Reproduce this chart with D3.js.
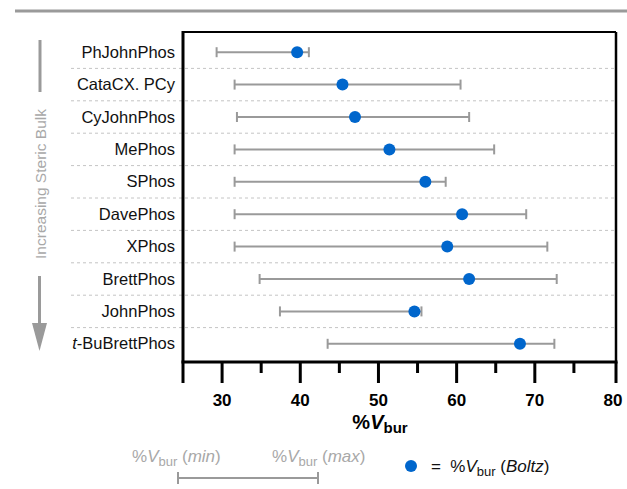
<!DOCTYPE html>
<html>
<head>
<meta charset="utf-8">
<script src="https://cdn.jsdelivr.net/npm/d3@7"></script>
<style>
  body { margin: 0; background: #fff; }
  svg { font-family: "Liberation Sans", Arial, Helvetica, sans-serif; }
</style>
</head>
<body>
<svg id="chart" width="627" height="489"></svg>
<script>
// ligands, top to bottom (increasing steric bulk)
const ligands = ['PhJohnPhos', 'CataCX. PCy', 'CyJohnPhos', 'MePhos', 'SPhos',
                 'DavePhos', 'XPhos', 'BrettPhos', 'JohnPhos', 't-BuBrettPhos'];
// %Vbur values
const vburMin   = [29.3, 31.6, 31.9, 31.6, 31.6, 31.6, 31.6, 34.8, 37.4, 43.5];
const vburMax   = [41.1, 60.5, 61.6, 64.8, 58.6, 68.9, 71.6, 72.8, 55.5, 72.5];
const vburBoltz = [39.6, 45.4, 47.0, 51.4, 56.0, 60.7, 58.8, 61.6, 54.6, 68.1];
const majorTicks = [30, 40, 50, 60, 70, 80];
const minorTicks = [35, 45, 55, 65, 75];

const rows = ligands.map((name, i) => ({
    name: name, min: vburMin[i], max: vburMax[i], boltz: vburBoltz[i]
}));

const svg = d3.select('#chart');
const grey = '#9a9a9a';
const blue = '#0066cc';

const x = d3.scaleLinear().domain([25, 80]).range([183, 613]);
const y = d3.scaleBand().domain(ligands).range([36, 360]);
const boxTop = 32, boxBottom = 362;

// top rule
svg.append('line')
    .attr('x1', 15).attr('x2', 627).attr('y1', 11).attr('y2', 11)
    .attr('stroke', grey).attr('stroke-width', 3);

// dashed separators between rows
svg.selectAll('.sep')
    .data(ligands.slice(1))
    .enter()
    .append('line')
    .attr('class', 'sep')
    .attr('x1', 71).attr('x2', 614)
    .attr('y1', d => y(d)).attr('y2', d => y(d))
    .attr('stroke', '#c4c4c4')
    .attr('stroke-width', 1)
    .attr('stroke-dasharray', '3,3');

// plot box (top/right thin, left/bottom thick)
svg.append('line').attr('x1', x(25)).attr('x2', x(80) + 3)
    .attr('y1', boxTop).attr('y2', boxTop)
    .attr('stroke', '#000').attr('stroke-width', 2);
svg.append('line').attr('x1', x(80) + 3).attr('x2', x(80) + 3)
    .attr('y1', boxTop).attr('y2', boxBottom)
    .attr('stroke', '#000').attr('stroke-width', 2.5);
svg.append('line').attr('x1', x(25)).attr('x2', x(25))
    .attr('y1', boxTop - 1).attr('y2', boxBottom)
    .attr('stroke', '#000').attr('stroke-width', 3);

// x axis
const axis = svg.append('g').attr('transform', `translate(0,${boxBottom})`);
axis.append('line').attr('x1', x(25) - 1.5).attr('x2', x(80) + 4.5)
    .attr('stroke', '#000').attr('stroke-width', 3);
axis.selectAll('.major')
    .data([25].concat(majorTicks))
    .enter()
    .append('line')
    .attr('x1', d => d === 80 ? x(d) + 3 : x(d)).attr('x2', d => d === 80 ? x(d) + 3 : x(d))
    .attr('y1', 0).attr('y2', 21)
    .attr('stroke', '#000').attr('stroke-width', 3);
axis.selectAll('.minor')
    .data(minorTicks)
    .enter()
    .append('line')
    .attr('x1', d => x(d)).attr('x2', d => x(d))
    .attr('y1', 0).attr('y2', 11)
    .attr('stroke', '#000').attr('stroke-width', 3);
axis.selectAll('.tlabel')
    .data(majorTicks)
    .enter()
    .append('text')
    .attr('x', d => x(d)).attr('y', 44)
    .attr('text-anchor', 'middle')
    .attr('font-size', 17).attr('font-weight', 'bold')
    .text(d => d);

// axis title %V_bur
const title = svg.append('text')
    .attr('x', 380).attr('y', 429)
    .attr('text-anchor', 'middle')
    .attr('font-size', 20).attr('font-weight', 'bold');
title.append('tspan').text('%');
title.append('tspan').attr('font-style', 'italic').text('V');
title.append('tspan').attr('font-size', 15).attr('dy', 4).text('bur');

// row labels
const labels = svg.selectAll('.rlabel')
    .data(rows)
    .enter()
    .append('text')
    .attr('x', 175)
    .attr('y', d => y(d.name) + y.bandwidth() / 2 + 5.5)
    .attr('text-anchor', 'end')
    .attr('font-size', 16.5)
    .attr('fill', '#111');
labels.each(function(d) {
    const t = d3.select(this);
    if (d.name.startsWith('t-')) {
        t.append('tspan').attr('font-style', 'italic').text('t');
        t.append('tspan').text(d.name.slice(1));
    } else {
        t.text(d.name);
    }
});

// error bars
const bars = svg.selectAll('.bar')
    .data(rows)
    .enter()
    .append('g')
    .attr('transform', d => `translate(0,${y(d.name) + y.bandwidth() / 2})`);
bars.append('line')
    .attr('x1', d => x(d.min)).attr('x2', d => x(d.max))
    .attr('stroke', grey).attr('stroke-width', 2);
bars.append('line')
    .attr('x1', d => x(d.min)).attr('x2', d => x(d.min))
    .attr('y1', -5).attr('y2', 5)
    .attr('stroke', grey).attr('stroke-width', 2);
bars.append('line')
    .attr('x1', d => x(d.max)).attr('x2', d => x(d.max))
    .attr('y1', -5).attr('y2', 5)
    .attr('stroke', grey).attr('stroke-width', 2);
bars.append('circle')
    .attr('cx', d => x(d.boltz)).attr('r', 6)
    .attr('fill', blue);

// side arrow: Increasing Steric Bulk
svg.append('line').attr('x1', 40).attr('x2', 40).attr('y1', 40).attr('y2', 92)
    .attr('stroke', grey).attr('stroke-width', 3);
svg.append('text')
    .attr('transform', 'translate(45.5,184) rotate(-90)')
    .attr('text-anchor', 'middle')
    .attr('font-size', 15.5)
    .attr('fill', '#a8a8a8')
    .text('Increasing Steric Bulk');
svg.append('line').attr('x1', 39.5).attr('x2', 39.5).attr('y1', 276).attr('y2', 325)
    .attr('stroke', grey).attr('stroke-width', 3);
svg.append('path')
    .attr('d', 'M32,323 L47,323 L39.5,351 Z')
    .attr('fill', grey);

// legend
function vburText(g, px, py, word, color) {
    const t = g.append('text').attr('x', px).attr('y', py)
        .attr('font-size', 17).attr('fill', color);
    t.append('tspan').text('%');
    t.append('tspan').attr('font-style', 'italic').text('V');
    t.append('tspan').attr('font-size', 13).attr('dy', 4).text('bur');
    t.append('tspan').attr('dy', -4).text(' (');
    t.append('tspan').attr('font-style', 'italic').text(word);
    t.append('tspan').text(')');
    return t;
}
const legend = svg.append('g');
vburText(legend, 132, 462, 'min', '#a8a8a8');
vburText(legend, 272, 462, 'max', '#a8a8a8');
legend.append('line').attr('x1', 178).attr('x2', 318).attr('y1', 478).attr('y2', 478)
    .attr('stroke', grey).attr('stroke-width', 2);
legend.append('line').attr('x1', 178).attr('x2', 178).attr('y1', 472).attr('y2', 484)
    .attr('stroke', grey).attr('stroke-width', 2);
legend.append('line').attr('x1', 318).attr('x2', 318).attr('y1', 472).attr('y2', 484)
    .attr('stroke', grey).attr('stroke-width', 2);
legend.append('circle').attr('cx', 411).attr('cy', 466).attr('r', 6).attr('fill', blue);
const eq = legend.append('text').attr('x', 431).attr('y', 472)
    .attr('font-size', 17).attr('fill', '#111')
    .attr('xml:space', 'preserve').style('white-space', 'pre');
eq.append('tspan').text('=  %');
eq.append('tspan').attr('font-style', 'italic').text('V');
eq.append('tspan').attr('font-size', 13).attr('dy', 4).text('bur');
eq.append('tspan').attr('dy', -4).text(' (');
eq.append('tspan').attr('font-style', 'italic').text('Boltz');
eq.append('tspan').text(')');
</script>
</body>
</html>
